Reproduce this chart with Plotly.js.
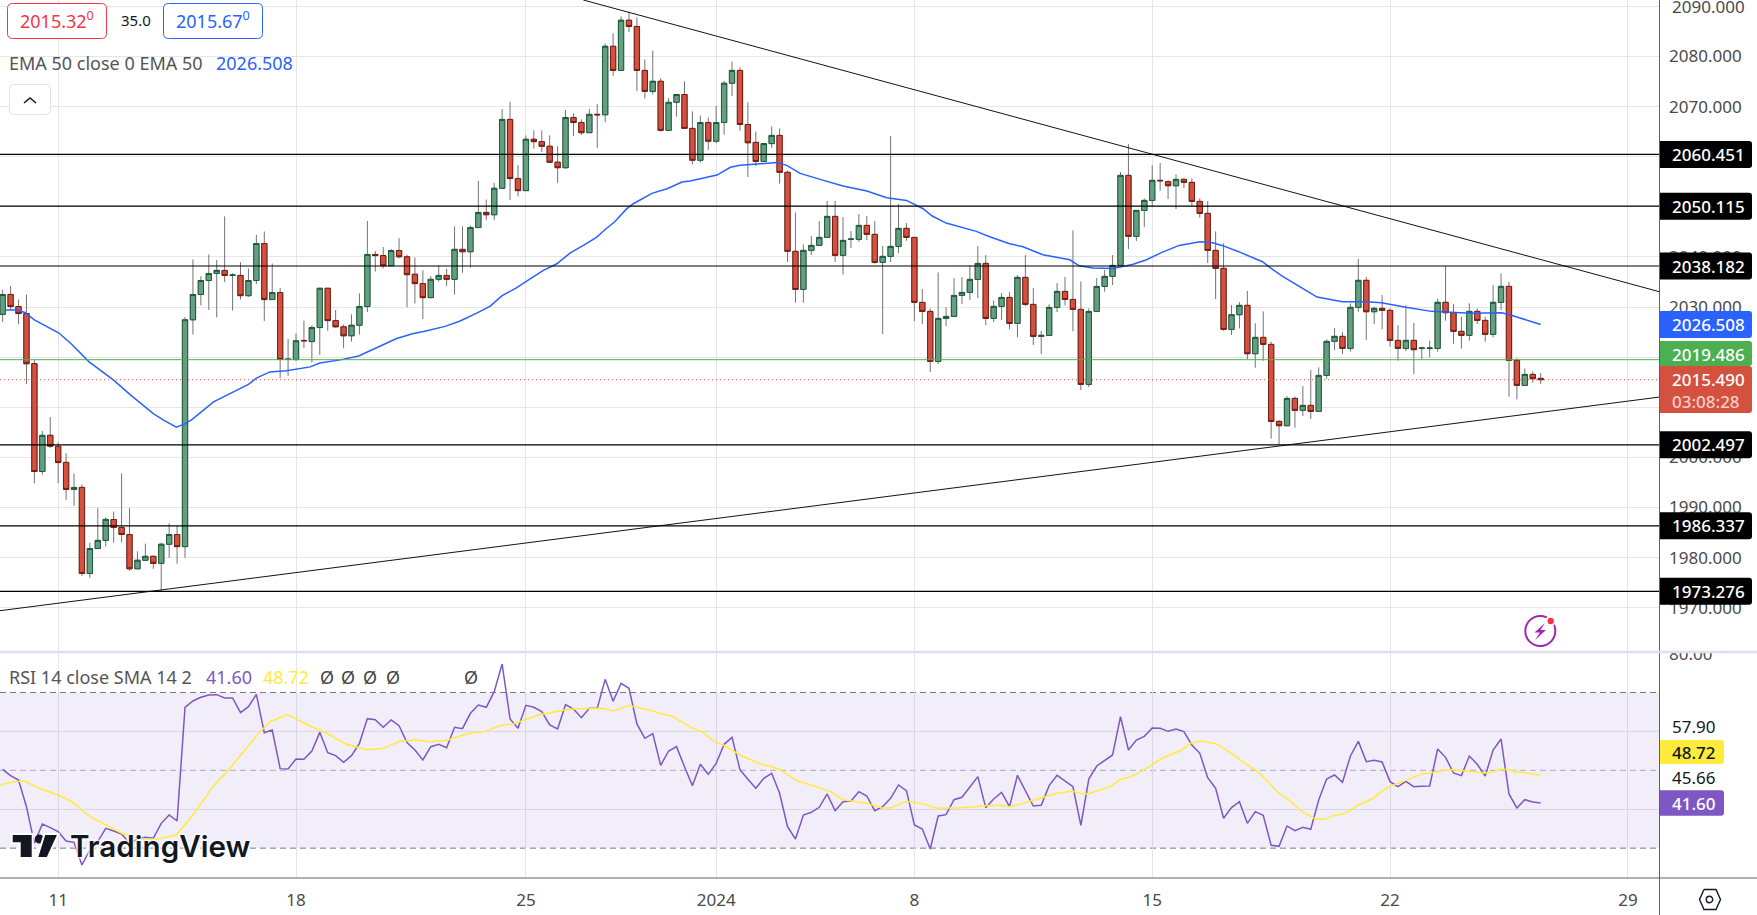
<!DOCTYPE html>
<html><head><meta charset="utf-8">
<script src="https://cdn.plot.ly/plotly-3.0.1.min.js"></script>
<style>html,body{margin:0;padding:0;background:#fff;overflow:hidden}#chart{width:1757px;height:915px}</style>
</head><body><div id="chart"></div>
<script>
const barOpen=[2028.53,2032.5,2030.1,2028.7,2018.7,1997.17,2004.4,2002.2,1999,1993.6,1994,1976.83,1981.8,1983.43,1987.6,1986,1984.6,1977.76,1979.47,1980.25,1978.85,1982.66,1984.6,1982.19,2027.45,2032.5,2035.29,2036.69,2037.3,2036.3,2036.3,2032.26,2035.29,2042.66,2031.48,2032.88,2019.61,2019.53,2023.33,2023.1,2025.9,2033.74,2027.29,2026.05,2024.26,2026.36,2030.09,2040.49,2040.26,2038.24,2041.27,2040.02,2036.53,2034.67,2031.87,2035.52,2036.3,2035.52,2041.5,2041.03,2045.85,2048.87,2048.41,2053.69,2067.43,2055.63,2053.22,2063.47,2063,2062.07,2058.89,2057.8,2067.82,2066.81,2064.79,2068.44,2068.36,2082.02,2077.21,2087.22,2085.98,2077.21,2073.02,2075.04,2065.25,2070.84,2072.4,2065.64,2059.28,2066.81,2063.08,2066.81,2074.65,2077.21,2066.42,2062.85,2059.04,2062.61,2064.24,2056.87,2041.11,2033.51,2041.3,2042.29,2043.89,2048.08,2040.3,2043.49,2043.49,2046.28,2044.49,2038.9,2040.1,2042.09,2045.69,2043.89,2030.92,2029.12,2019.14,2027.72,2028.12,2032.31,2032.91,2035.51,2038.7,2027.72,2030.12,2031.91,2026.72,2035.91,2030.52,2024.13,2024.33,2029.92,2033.11,2031.51,2029.52,2014.55,2029.12,2034.11,2036.11,2038.3,2056.26,2044.09,2049.28,2051.27,2055.27,2055,2054.2,2055.47,2054.87,2051.07,2048.68,2041.3,2037.71,2025.54,2028.46,2030.33,2020.68,2023.94,2022.54,2007.17,2006.31,2011.76,2009.37,2010.37,2009.17,2016.35,2023.14,2024.14,2021.74,2029.93,2035.32,2029.06,2029.73,2029.33,2023.34,2021.74,2023.34,2021.74,2021.74,2021.74,2030.93,2028.86,2025.14,2024.34,2029.13,2027.33,2024.54,2030.93,2034.12,2019.35,2014.36,2016.55,2015.76];
const barHigh=[2033.43,2034.2,2031.48,2032.5,2019.45,2005.25,2008.04,2002.99,2000.82,1996.78,1994.61,1982.97,1989.87,1988.01,1989.18,1996.78,1989.87,1981.26,1982.81,1980.4,1982.97,1986.85,1986.3,2027.99,2039.48,2036.14,2040.49,2039.4,2048.1,2036.76,2038.94,2037.7,2044.37,2045.07,2038.7,2033.81,2023.64,2024.73,2027.29,2026.36,2033.74,2033.74,2029.39,2026.52,2028.53,2032.73,2047.17,2041.19,2041.96,2041.58,2043.75,2040.49,2039.87,2037.31,2036.14,2038.32,2037.62,2046.08,2046.08,2046.23,2055.16,2051.44,2054.77,2069.52,2070.92,2058.34,2064.24,2065.25,2065.25,2064.24,2062.07,2069.29,2068.67,2067.43,2069.52,2070.53,2082.57,2084.58,2088,2088.93,2087.77,2079.38,2081.17,2075.66,2071.7,2072.4,2075.04,2069.06,2068.2,2067.82,2070.14,2075.11,2078.99,2077.83,2070.84,2065.02,2062.69,2066.03,2065.64,2057.26,2048.87,2042.49,2044.16,2047.15,2051.14,2051.14,2047.95,2045.15,2048.55,2048.15,2047.15,2042.16,2064.11,2050.54,2046.75,2043.89,2033.58,2029.72,2036.9,2029.98,2035.77,2035.97,2038.37,2042.16,2040.36,2031.32,2032.78,2032.98,2036.37,2040.36,2033.78,2025.19,2030.52,2034.77,2035.97,2045.29,2035.11,2029.72,2035.77,2037.37,2040.36,2056.93,2062.52,2049.28,2051.67,2058.26,2058.73,2055.33,2056.46,2055.67,2055.67,2051.67,2051.14,2045.09,2042.7,2030.39,2030.99,2033.19,2026.73,2029.13,2023.07,2007.44,2012.23,2012.1,2014.23,2017.42,2017.95,2023.54,2025.8,2025,2030.73,2039.57,2035.98,2030.1,2032.39,2029.73,2026.4,2030.33,2026.8,2022.08,2023.27,2031.66,2038.18,2030.59,2028.06,2030.73,2029.73,2028.06,2034.32,2036.71,2034.98,2019.81,2017.75,2017.15,2016.82];
const barLow=[2026.98,2029.47,2026.6,2014.64,1994.84,1996.55,2001.83,1994.84,1991.51,1990.34,1976.37,1975.98,1981.8,1982.19,1982.97,1983,1977.38,1977.76,1979.47,1977.76,1973.26,1979.94,1978.77,1979.94,2024.5,2030.32,2029.39,2027.91,2034.98,2029.31,2031.48,2032.03,2034.59,2027.22,2031.48,2015.8,2016.27,2019.22,2021.78,2018.91,2020.46,2025.27,2025.9,2021.78,2023.1,2024.5,2029,2037.07,2037.7,2038.24,2039.71,2029.93,2030.71,2027.6,2031.87,2035.06,2034.2,2032.49,2036.84,2037.85,2045.85,2047.32,2047.32,2053.69,2051.36,2052.06,2053.22,2061.61,2060.91,2058.89,2054.77,2057.57,2064.09,2064.32,2064.79,2061.76,2066.88,2076.12,2077.21,2084.89,2073.09,2071.62,2072.4,2065.02,2065.25,2067.97,2065.64,2058.42,2058.81,2061.37,2062.69,2064.4,2072.09,2065.18,2055.94,2058.11,2059.04,2061.76,2054.62,2039.01,2030.86,2030.85,2040.36,2042.29,2043.89,2038.97,2036.44,2041.76,2042.96,2043.36,2038.63,2024.6,2038.97,2040.76,2043.22,2027.19,2026.59,2017.01,2018.61,2026.19,2027.99,2030.58,2031.38,2031.78,2026.39,2026.99,2027.39,2025.59,2024,2030.18,2022.4,2020.6,2024.33,2028.99,2030.32,2025.19,2013.42,2014.02,2029.12,2033.05,2034.38,2038.3,2041.56,2043.16,2045.95,2049.94,2053.2,2051.54,2049.54,2053.74,2050.14,2047.81,2038.77,2031.58,2025.27,2024.41,2025.74,2019.61,2017.89,2019.28,2003.71,2002.45,2006.31,2005.91,2008.24,2007.64,2009.17,2015.69,2021.41,2020.61,2021.08,2029.06,2023.41,2026.6,2025.54,2022.08,2019.28,2021.21,2016.62,2019.55,2019.95,2021.08,2027.27,2022.68,2021.68,2023.27,2026.6,2023.07,2023.94,2029.4,2012.1,2011.56,2014.36,2014.89,2014.63];
const barClose=[2032.49,2030.09,2028.69,2018.68,1997.17,2004.39,2002.22,1998.96,1993.6,1993.99,1976.83,1981.8,1983.43,1987.62,1985.99,1984.6,1977.76,1979.47,1980.25,1978.85,1982.66,1984.6,1982.19,2027.45,2032.5,2035.29,2036.69,2037.31,2036.3,2036.38,2032.26,2035.29,2042.66,2031.48,2032.88,2019.53,2019.53,2023.26,2023.26,2025.9,2033.74,2027.29,2026.05,2024.26,2026.36,2030.09,2040.49,2040.26,2038.24,2041.27,2040.02,2036.45,2034.67,2031.87,2035.52,2036.3,2035.52,2041.5,2041.03,2045.85,2048.87,2048.41,2053.69,2067.43,2055.63,2053.22,2063.47,2063,2062.07,2058.89,2057.8,2067.82,2066.81,2064.79,2068.44,2068.36,2082.02,2077.21,2087.22,2085.98,2077.21,2073.02,2075.04,2065.25,2070.84,2072.4,2065.64,2059.28,2066.81,2063.08,2066.81,2074.65,2077.21,2066.42,2062.77,2059.04,2062.61,2064.24,2056.87,2041.11,2033.5,2041.3,2042.29,2043.89,2048.08,2040.3,2043.29,2043.56,2046.28,2044.49,2038.9,2040.1,2042.09,2045.69,2043.89,2030.92,2029.12,2019.14,2027.72,2028.12,2032.31,2032.91,2035.51,2038.7,2027.72,2030.12,2031.91,2026.72,2035.91,2030.52,2024.13,2024.33,2029.92,2033.11,2031.51,2029.52,2014.55,2029.12,2034.11,2036.11,2038.3,2056.26,2044.09,2049.28,2051.27,2055.27,2055.2,2054.2,2055.47,2054.87,2051.07,2048.68,2041.3,2037.7,2025.54,2028.46,2030.33,2020.68,2023.94,2022.54,2007.17,2006.31,2011.76,2009.37,2010.37,2009.17,2016.35,2023.14,2024.14,2021.74,2029.93,2035.32,2029.06,2029.73,2029.33,2023.34,2021.74,2023.34,2021.48,2021.81,2021.81,2030.93,2028.86,2025.14,2024.34,2029.13,2027.33,2024.54,2030.93,2034.12,2019.35,2014.36,2016.55,2015.69,2015.49];
const emaX=[1.4,2.7,3.8,5,8.1,9.7,11.9,15,17,20,21.3,22.9,23.9,24.9,27.6,30.1,32,33,34.7,36.8,39.8,41,43.6,45.9,48.2,50.7,52.8,54.1,56.8,58.7,60.8,62.5,64,65.8,66.9,69.2,70.9,72.6,74.3,75.9,77,78.2,79.7,80.6,82.9,84.8,86.7,87.7,91.1,92.8,94,95.7,98.6,99.9,101.6,104.1,107,110,112.5,115,117.1,118.2,120,123.8,125.5,128,129.7,132.2,135.6,136.8,138.5,141,143.5,145.2,147.3,149.4,152,153.6,154.9,156.9,159.9,161,162.4,164.6,166.8,170,173.1,174.9,178,181.2,183.4,186.1,190.1,191.5,195];
const emaY=[2029.39,2029.39,2028.92,2027.45,2024.81,2022.56,2019.06,2015.42,2012.62,2008.74,2007.42,2006.02,2006.64,2007.57,2011.07,2013.01,2014.56,2015.8,2017.05,2017.28,2018.05,2018.83,2019.45,2020.23,2021.94,2023.72,2024.73,2025.12,2026.13,2027.22,2028.77,2030.17,2032.26,2033.81,2034.98,2037.31,2038.63,2040.8,2042.35,2043.9,2045.46,2047.01,2049.57,2050.66,2052.68,2053.61,2054.93,2055.16,2056.33,2057.88,2058.27,2058.42,2058.81,2058.27,2056.66,2055.47,2054.14,2053.14,2051.81,2051.27,2049.61,2048.21,2046.75,2045.09,2044.02,2042.63,2042.03,2040.43,2039.43,2038.23,2037.77,2037.7,2038.5,2039.37,2040.96,2042.29,2043.03,2042.83,2042.24,2041.04,2039.04,2037.71,2036.18,2034.05,2031.99,2031.06,2031.06,2030.86,2029.93,2029.13,2029,2028.73,2028.86,2028.26,2026.51];
const rsiValues=[50.26,48.63,47.52,40.66,31.24,36.21,35.27,34.24,31.84,31.5,25.68,29.53,31.67,35.1,34.41,33.64,31.24,32.36,32.78,32.53,36.38,38.52,36.98,66.19,67.82,68.76,69.36,69.44,68.59,68.59,64.82,66.36,69.53,59.68,60.36,50.43,50.34,52.91,52.83,54.97,59.76,54.54,53.77,52.06,53.77,56.94,63.28,63.02,61.05,62.93,61.48,57.11,55.22,52.66,56.08,56.68,55.82,61.05,60.71,64.65,66.79,66.19,70.21,77.32,63.19,60.79,66.7,66.19,65.07,61.65,60.62,66.87,65.76,63.53,65.93,65.93,73.38,67.73,72.35,71.07,61.91,58.22,59.42,51.28,54.97,56.08,50.94,46.06,51.54,48.97,51.8,56.68,58.48,50.17,47.69,45.37,47.94,49.23,44.09,35.53,32.36,38.52,39.21,40.49,43.92,39.64,41.95,42.12,44.52,43.41,39.64,40.66,42.81,46.23,44.78,35.95,34.93,29.79,38.27,38.61,42.46,43.06,45.72,48.37,40.41,42.63,44.35,40.66,48.72,44.69,40.84,41.01,46.06,48.72,47.34,45.8,35.87,47.77,51.11,52.48,53.94,63.79,55.22,57.79,58.74,60.88,60.79,60.02,60.62,59.94,56.51,54.37,48.12,45.37,37.67,40.41,41.95,36.38,39.38,38.44,30.73,30.47,35.7,34.5,35.35,34.84,42.38,47.77,48.8,46.92,53.68,57.45,52.23,52.57,52.14,47.09,45.8,47.17,45.8,45.89,45.97,55.48,53.34,49.31,48.63,53.68,51.54,48.54,55.22,58.05,43.92,40.32,42.46,41.86,41.6];
const smaX=[0.66,2.35,3.8,5.9,8,9.8,11.9,14.1,16.2,18.3,20.4,22.9,25,27.6,29.3,31.8,33.5,34.7,36.9,39.8,42.3,44.4,46.9,49,51.1,53,54.9,57,59.9,61.8,63.9,65.4,68.6,71.9,73.2,76.8,78,79.9,82.9,84.1,85.4,87.9,89.2,90.9,91.9,94,97,97.8,99.1,101,103.1,105.4,107,110,111.9,113,115,117,118.8,122.2,124.9,127,128,128.9,131.9,134,135.9,137.1,138,140.9,142,143.1,145,147.1,149.7,150.9,152.2,154.1,156.2,157.7,159,160,161.9,163,164.9,166.7,167.8,168.8,169.9,170.9,172,173.9,175,176,177.9,180,181,182.9,184,186,187.1,188,189,189.8,190.9,192,195];
const smaY=[46.23,47.09,47.26,45.12,43.66,41.86,38.27,35.95,33.64,32.36,32.27,33.38,38.52,46.06,49.66,55.82,59.94,62.5,64.3,61.39,59.08,56.68,55.31,55.65,57.45,57.88,57.37,57.71,59.51,59.94,61.56,61.91,64.22,65.5,65.85,65.93,65.25,66.62,65.33,64.47,63.96,60.96,59.94,57.19,56.51,53.94,51.28,51.11,50.09,47.52,46.06,44.52,42.46,41.52,40.32,40.32,42.03,41.44,40.24,40.41,40.92,41,40.66,41,42.81,44.09,44.6,44,44,46.06,47.69,48.2,50.09,52.91,55.22,57.02,57.54,56.77,54.11,51.8,50.09,48.37,44.26,42.81,39.38,37.41,37.41,38.35,38.69,39.55,41.09,42.81,44.69,45.89,47.34,49.06,49.23,50.09,50.17,49.66,49.57,49.31,49.57,50.26,50.17,49.66,48.72];
const levelPrices=[2060.451,2050.115,2038.182,2002.497,1986.337,1973.276];
const lastBid=2015.49, dayOpen=2019.486, emaLast=2026.508;
const trendDownX=[74.24,209.98], trendDownY=[2091.26,2033.05];
const trendUpX=[0.663,209.98], trendUpY=[1969.4,2012.03];
const priceTicks=[1970,1980,1990,2000,2010,2020,2030,2040,2050,2060,2070,2080,2090];
const priceTickText=['1970.000','1980.000','1990.000','2000.000','','','2030.000','2040.000','','','2070.000','2080.000',''];
const timeTickPos=[8,38,67,91,116,146,176,206];
const timeTickText=['11','18','25','2024','8','15','22','29'];
const rsiTicks=[40,60,80];
const rsiTickText=['','','80.00'];
const rsiSideLabels=[['57.90',726.7],['45.66',777.7]];

const W=1660,H=878,FONT='"Noto Sans", sans-serif';
const barIdx=barOpen.map((_,i)=>i+1);
const xRange=[0.663,210.05];
const PX=x=>x/W, PY=y=>1-y/H;
const RED='#d5513f',GREEN='#669f7f',BLUE='#2962ff';

function ann(x,y,text,size,color,extra){return Object.assign({xref:'paper',yref:'paper',x:PX(x-1.5),y:PY(y),text,showarrow:false,xanchor:'left',yanchor:'middle',font:{family:FONT,size,color}},extra||{});}
function rr(x,y,w,h,r,fill,line){const a=PX,b=PY;const p=`M${a(x+r)},${b(y)} L${a(x+w-r)},${b(y)} Q${a(x+w)},${b(y)} ${a(x+w)},${b(y+r)} L${a(x+w)},${b(y+h-r)} Q${a(x+w)},${b(y+h)} ${a(x+w-r)},${b(y+h)} L${a(x+r)},${b(y+h)} Q${a(x)},${b(y+h)} ${a(x)},${b(y+h-r)} L${a(x)},${b(y+r)} Q${a(x)},${b(y)} ${a(x+r)},${b(y)} Z`;return {type:'path',xref:'paper',yref:'paper',path:p,fillcolor:fill,line:{color:line||fill,width:line?1:0},layer:'above'};}
function poly(pts,fill,line,w){const p=pts.map((q,i)=>(i?'L':'M')+PX(q[0])+','+PY(q[1])).join(' ')+(fill?' Z':'');return {type:'path',xref:'paper',yref:'paper',path:p,fillcolor:fill||'rgba(0,0,0,0)',line:{color:line||fill,width:w||0},layer:'above'};}
function circ(cx,cy,r,fill,line,w){return {type:'circle',xref:'paper',yref:'paper',x0:PX(cx-r),x1:PX(cx+r),y0:PY(cy+r),y1:PY(cy-r),fillcolor:fill||'rgba(0,0,0,0)',line:{color:line||fill,width:w||0},layer:'above'};}
function tag(value,color,up,down,width,yref){const wd=width||92,r=3;return {type:'path',xref:'paper',yref:yref||'y',xsizemode:'pixel',ysizemode:'pixel',xanchor:1,yanchor:value,path:`M0,${up} L${wd-r},${up} Q${wd},${up} ${wd},${up-r} L${wd},${-down+r} Q${wd},${-down} ${wd-r},${-down} L0,${-down} Z`,fillcolor:color,line:{width:0},layer:'above'};}
function tagText(value,text,color,yref,yshift,size,weight){return {xref:'paper',yref:yref||'y',x:1+9.5/W,y:value,text,showarrow:false,xanchor:'left',yanchor:'middle',yshift:yshift||0,font:{family:FONT,size:size||17,color,weight:weight||500}};}

const traces=[
 {type:'candlestick',x:barIdx,open:barOpen,high:barHigh,low:barLow,close:barClose,xaxis:'x',yaxis:'y',whiskerwidth:0,
  increasing:{line:{color:'#737373',width:1},fillcolor:'rgba(0,0,0,0)'},decreasing:{line:{color:'#737373',width:1},fillcolor:'rgba(0,0,0,0)'},hoverinfo:'skip',showlegend:false},
 {type:'candlestick',x:barIdx,open:barOpen,close:barClose,
  high:barOpen.map((o,i)=>Math.max(o,barClose[i])),low:barOpen.map((o,i)=>Math.min(o,barClose[i])),xaxis:'x',yaxis:'y',whiskerwidth:0,
  increasing:{line:{color:'#1c5c3e',width:1},fillcolor:GREEN},decreasing:{line:{color:'#751c12',width:1},fillcolor:RED},hoverinfo:'skip',showlegend:false},
 {type:'scatter',mode:'lines',x:emaX,y:emaY,xaxis:'x',yaxis:'y',line:{color:BLUE,width:1.5},hoverinfo:'skip',showlegend:false},
 {type:'scatter',mode:'lines',x:trendDownX,y:trendDownY,xaxis:'x',yaxis:'y',line:{color:'#131313',width:1},hoverinfo:'skip',showlegend:false},
 {type:'scatter',mode:'lines',x:trendUpX,y:trendUpY,xaxis:'x',yaxis:'y',line:{color:'#131313',width:1},hoverinfo:'skip',showlegend:false},
 {type:'scatter',mode:'lines',x:barIdx,y:rsiValues,xaxis:'x',yaxis:'y2',line:{color:'#7e57c2',width:1.5},hoverinfo:'skip',showlegend:false},
 {type:'scatter',mode:'lines',x:smaX,y:smaY,xaxis:'x',yaxis:'y2',line:{color:'#ffeb3b',width:1.5},hoverinfo:'skip',showlegend:false}
];

const shapes=[];
shapes.push({type:'rect',xref:'x',yref:'y2',x0:xRange[0],x1:xRange[1],y0:30,y1:70,fillcolor:'rgba(126,87,194,0.1)',line:{width:0},layer:'between'});
[[70,'#787b86'],[50,'#b2b5be'],[30,'#787b86']].forEach(([v,c])=>shapes.push({type:'line',xref:'paper',yref:'y2',x0:0,x1:1,y0:v,y1:v,line:{color:c,width:1,dash:'6px,4px'},layer:'below'}));
levelPrices.forEach(v=>shapes.push({type:'line',xref:'paper',yref:'y',x0:0,x1:1,y0:v,y1:v,line:{color:'#000',width:1.2},layer:'above'}));
shapes.push({type:'line',xref:'paper',yref:'y',x0:0,x1:1,y0:dayOpen,y1:dayOpen,line:{color:'#4caf50',width:1},layer:'above'});
shapes.push({type:'line',xref:'paper',yref:'y',x0:0,x1:1,y0:lastBid,y1:lastBid,line:{color:'#e2503f',width:1,dash:'1px,3px'},layer:'above'});
// covers and frame
shapes.push({type:'rect',xref:'paper',yref:'paper',x0:1,x1:PX(1757),y0:PY(651),y1:PY(640),fillcolor:'#fff',line:{width:0},layer:'above'});
shapes.push({type:'line',xref:'paper',yref:'paper',x0:PX(1659.5),x1:PX(1659.5),y0:PY(0),y1:PY(915),line:{color:'#5d606b',width:1},layer:'above'});
shapes.push({type:'line',xref:'paper',yref:'paper',x0:0,x1:PX(1757),y0:PY(652),y1:PY(652),line:{color:'#e0dff0',width:2.5},layer:'above'});
shapes.push({type:'line',xref:'paper',yref:'paper',x0:0,x1:PX(1757),y0:PY(878),y1:PY(878),line:{color:'#5d606b',width:1},layer:'above'});
// top-left controls
shapes.push(rr(7.5,3.5,99,35,5,'#fff','#f23645'));
shapes.push(rr(163.5,3.5,99,35,5,'#fff',BLUE));
shapes.push(rr(9.5,84.5,41,30,4,'#fff','#e0e3eb'));
shapes.push(poly([[24,103],[30,98],[36,103]],null,'#131722',1.6));
// tags
levelPrices.forEach(v=>shapes.push(tag(v,'#000',13.5,13.5)));
shapes.push(tag(emaLast,BLUE,13.5,13.5));
shapes.push(tag(dayOpen,'#4caf50',18.7,6.3));
shapes.push(tag(lastBid,RED,13.7,33.3));
// rsi side tags
shapes.push({type:'rect',xref:'paper',yref:'paper',x0:PX(1660),x1:PX(1723.5),y0:PY(816),y1:PY(713),fillcolor:'#fff',line:{width:0},layer:'above'});
shapes.push(tag(smaY[smaY.length-1],'#ffeb3b',35.3,-11.3,64,'y2'));
shapes.push(tag(rsiValues[rsiValues.length-1],'#7e57c2',12.7,12.7,64,'y2'));
// TradingView logo
shapes.push(poly([[11.7,834],[32.7,834],[32.7,858],[19.7,858],[19.7,843.3],[11.7,843.3]],'#131722','#fff',2));
shapes.push(circ(39.3,839,4.5,'#131722'));
shapes.push(poly([[44.5,834],[58.5,834],[47.5,858],[37,858]],'#131722','#fff',2));
// lightning icon
shapes.push(circ(1540.3,631,15,'#fff','#9c27b0',2));
shapes.push(poly([[1545,623],[1534.5,632.5],[1540,632.5],[1535,640],[1546,630],[1540.5,630]],'#9c27b0'));
shapes.push(circ(1550.7,621,4.2,'#f23645','#fff',2));
// hexagon settings icon
shapes.push(poly([[1704,889.5],[1716,889.5],[1720.5,899.5],[1716,909.5],[1704,909.5],[1699.5,899.5],[1704,889.5]],null,'#131722',1.4));
shapes.push(circ(1709.5,899.5,3.2,null,'#131722',1.4));

const annotations=[
 ann(19,20,'2015.32<sup>0</sup>',18,'#f23645'),
 ann(120,20.5,'35.0',15,'#131722'),
 ann(175,20,'2015.67<sup>0</sup>',18,BLUE),
 ann(8,63,'EMA 50 close 0 EMA 50',18,'#555'),
 ann(215,63,'2026.508',18,BLUE),
 ann(8,677,'RSI 14 close SMA 14 2',18,'#555'),
 ann(205,677,'41.60',18,'#7e57c2'),
 ann(262,677,'48.72',18,'#ffeb3b'),
 ann(319,677,'Ø',18,'#444'),ann(340,677,'Ø',18,'#444'),ann(362,677,'Ø',18,'#444'),ann(385,677,'Ø',18,'#444'),ann(463,677,'Ø',18,'#444'),
 ann(69.5,846,'TradingView',29.6,'#131722',{font:{family:'Inter, sans-serif',size:29.6,color:'#131722',weight:600,shadow:'0 0 3px #fff, 0 0 3px #fff, 0 0 3px #fff, 0 0 3px #fff'}})
];
annotations.push(tagText(2090,'2090.000','#4a4a4a','y',0,17,400));
levelPrices.forEach(v=>annotations.push(tagText(v,v.toFixed(3),'#fff')));
annotations.push(tagText(emaLast,emaLast.toFixed(3),'#fff'));
annotations.push(tagText(dayOpen,dayOpen.toFixed(3),'#fff','y',5));
annotations.push(tagText(lastBid,lastBid.toFixed(3),'#fff','y',0));
annotations.push(tagText(lastBid,'03:08:28','#f7cfc9','y',-22));
rsiSideLabels.forEach(([t,y])=>annotations.push(ann(1671,y,t,17,'#131722')));
annotations.push(tagText(smaY[smaY.length-1],'48.72','#131722','y2',23.3));
annotations.push(tagText(rsiValues[rsiValues.length-1],'41.60','#fff','y2',0));

const layout={width:1757,height:915,margin:{l:0,r:97,t:0,b:37,pad:0},paper_bgcolor:'#fff',plot_bgcolor:'#fff',showlegend:false,dragmode:false,boxgap:0.05,boxgroupgap:0.3,
 font:{family:FONT,size:17,color:'#4a4a4a'},
 xaxis:{type:'linear',range:xRange,anchor:'y2',tickmode:'array',tickvals:timeTickPos,ticktext:timeTickText,showgrid:true,gridcolor:'#e6e6e6',gridwidth:1,zeroline:false,ticks:'',showline:false,rangeslider:{visible:false},ticklabelstandoff:10,tickfont:{family:FONT,size:17,color:'#4a4a4a'}},
 yaxis:{domain:[1-652/878,1],range:[1961.16,2091.26],side:'right',anchor:'x',tickmode:'array',tickvals:priceTicks,ticktext:priceTickText,showgrid:true,gridcolor:'#e6e6e6',gridwidth:1,zeroline:false,ticks:'',showline:false,ticklabelstandoff:8,tickfont:{family:FONT,size:17,color:'#4a4a4a'}},
 yaxis2:{domain:[0,224.7/878],range:[22.33,80.07],side:'right',anchor:'x',tickmode:'array',tickvals:rsiTicks,ticktext:rsiTickText,showgrid:true,gridcolor:'#e6e6e6',gridwidth:1,zeroline:false,ticks:'',showline:false,ticklabelstandoff:8,tickfont:{family:FONT,size:17,color:'#4a4a4a'}},
 shapes,annotations};
Plotly.newPlot('chart',traces,layout,{staticPlot:true,displayModeBar:false});
</script>
</body></html>
